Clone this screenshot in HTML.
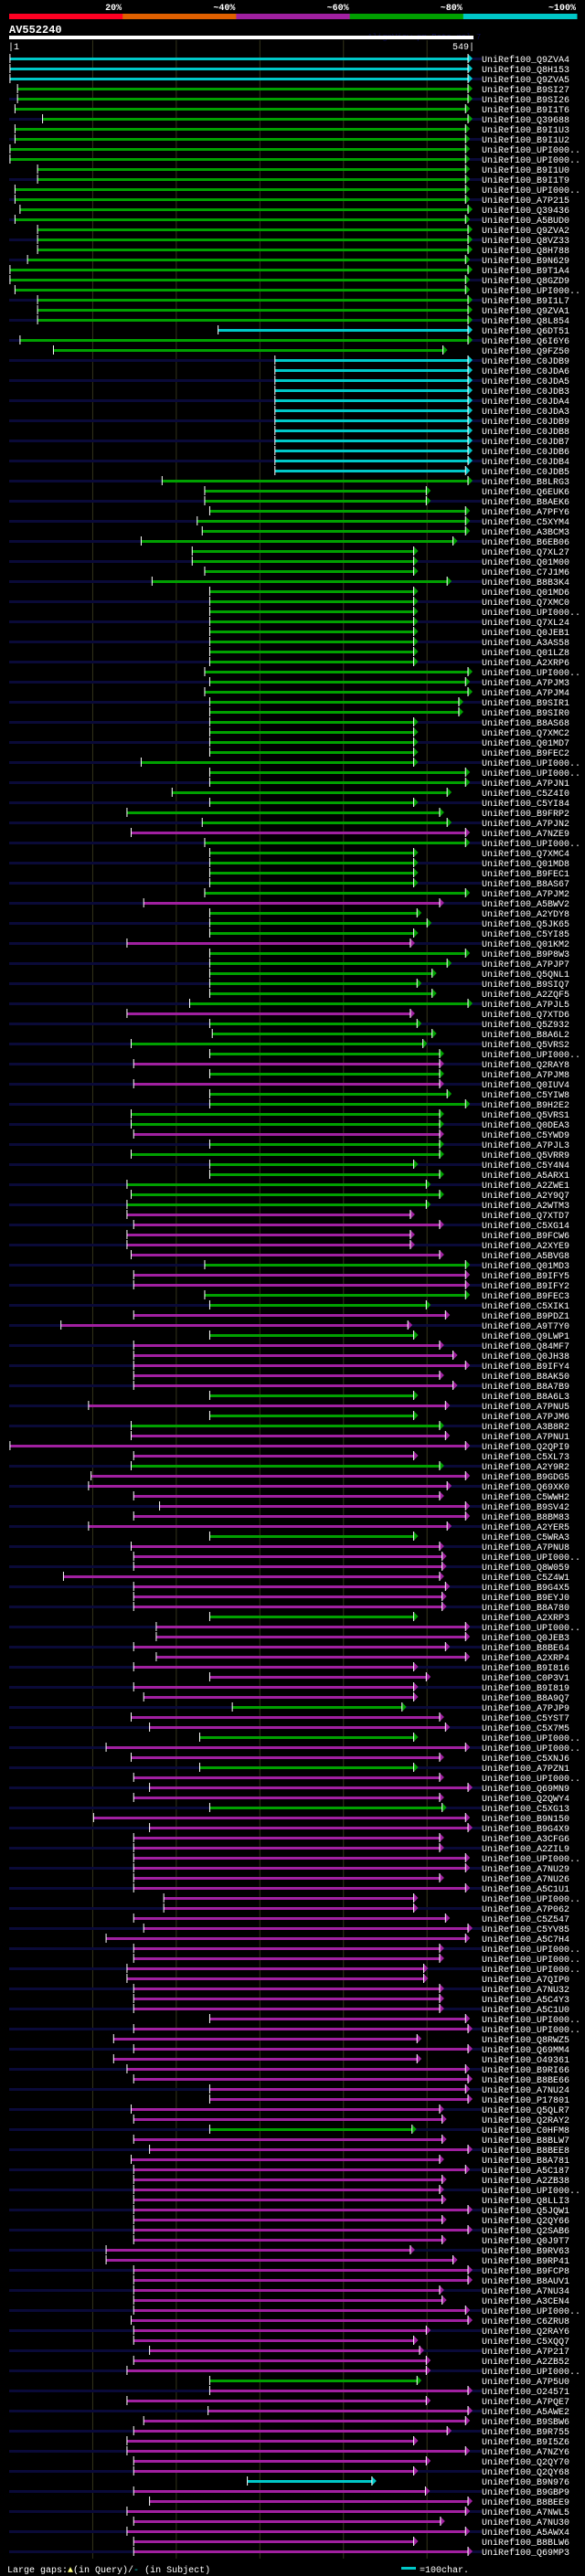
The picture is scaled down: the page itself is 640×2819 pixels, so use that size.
<!DOCTYPE html>
<html><head><meta charset="utf-8">
<style>
html,body{margin:0;padding:0;background:#000;}
body{width:640px;height:2819px;overflow:hidden;}
svg{display:block;}
text{font-family:"Liberation Mono",monospace;}
</style></head>
<body>
<svg id="chart" width="640" height="2819" viewBox="0 0 640 2819" xmlns="http://www.w3.org/2000/svg">
<rect x="0" y="0" width="640" height="2819" fill="#000"/>
<g id="scale"></g>
<text x="10" y="36" fill="#fff" font-size="12" font-weight="bold">AV552240</text>
<text x="402" y="43" fill="#0a0a50" font-size="9">AlignView.pm Beta rel.7</text>
<rect x="10" y="39" width="508" height="4" fill="#fff"/>
<text x="9" y="54" fill="#fff" font-size="10">|1</text>
<text x="519" y="54" fill="#fff" font-size="10" text-anchor="end">549|</text>
<g id="grid"></g>
<g id="rows"></g>
<g>
<text x="8" y="2815" fill="#fff" font-size="10">Large gaps:<tspan fill="#ffff80">▲</tspan>(in Query)/<tspan fill="#00c8c8">-</tspan> (in Subject)</text>
<rect x="439" y="2809" width="16" height="3" fill="#00c8c8"/>
<text x="459" y="2815" fill="#fff" font-size="10">=100char.</text>
</g>
</svg>
<script>
const qLen = 549;
const scaleLabels = ["20%","~40%","~60%","~80%","~100%"];
const gridTicks = [100,200,300,400,500];
const names = ["Q9ZVA4","Q8H153","Q9ZVA5","B9SI27","B9SI26","B9I1T6","Q39688","B9I1U3","B9I1U2","UPI000..","UPI000..","B9I1U0","B9I1T9","UPI000..","A7P215","Q39436","A5BUD0","Q9ZVA2","Q8VZ33","Q8H788","B9N629","B9T1A4","Q8GZD9","UPI000..","B9I1L7","Q9ZVA1","Q8L854","Q6DT51",
"Q6I6Y6","Q9FZ50","C0JDB9","C0JDA6","C0JDA5","C0JDB3","C0JDA4","C0JDA3","C0JDB9","C0JDB8","C0JDB7","C0JDB6","C0JDB4","C0JDB5","B8LRG3","Q6EUK6","B8AEK6","A7PFY6","C5XYM4","A3BCM3","B6EB06","Q7XL27","Q01M00","C7J1M6","B8B3K4","Q01MD6","Q7XMC0","UPI000..",
"Q7XL24","Q0JEB1","A3AS58","Q01LZ8","A2XRP6","UPI000..","A7PJM3","A7PJM4","B9SIR1","B9SIR0","B8AS68","Q7XMC2","Q01MD7","B9FEC2","UPI000..","UPI000..","A7PJN1","C5Z4I0","C5YI84","B9FRP2","A7PJN2","A7NZE9","UPI000..","Q7XMC4","Q01MD8","B9FEC1","B8AS67","A7PJM2",
"A5BWV2","A2YDY8","Q5JK65","C5YI85","Q01KM2","B9P8W3","A7PJP7","Q5QNL1","B9SIQ7","A2ZQF5","A7PJL5","Q7XTD6","Q5Z932","B8A6L2","Q5VRS2","UPI000..","Q2RAY8","A7PJM8","Q0IUV4","C5YIW8","B9H2E2","Q5VRS1","Q0DEA3","C5YWD9","A7PJL3","Q5VRR9","C5Y4N4","A5ARX1",
"A2ZWE1","A2Y9Q7","A2WTM3","Q7XTD7","C5XG14","B9FCW6","A2XYE9","A5BVG8","Q01MD3","B9IFY5","B9IFY2","B9FEC3","C5XIK1","B9PDZ1","A9T7Y0","Q9LWP1","Q84MF7","Q0JH38","B9IFY4","B8AK50","B8A7B9","B8A6L3","A7PNU5","A7PJM6","A3B8R2","A7PNU1","Q2QPI9","C5XL73",
"A2Y9R2","B9GDG5","Q69XK0","C5WWH2","B9SV42","B8BM83","A2YER5","C5WRA3","A7PNU8","UPI000..","Q8W059","C5Z4W1","B9G4X5","B9EYJ0","B8A780","A2XRP3","UPI000..","Q0JEB3","B8BE64","A2XRP4","B9I816","C0P3V1","B9I819","B8A9Q7","A7PJP9","C5YST7","C5X7M5","UPI000..","UPI000..",
"C5XNJ6","A7PZN1","UPI000..","Q69MN9","Q2QWY4","C5XG13","B9N150","B9G4X9","A3CFG6","A2ZIL9","UPI000..","A7NU29","A7NU26","A5C1U1","UPI000..","A7P062","C5Z547","C5YV85","A5C7H4","UPI000..","UPI000..","UPI000..","A7QIP0","A7NU32","A5C4Y3","A5C1U0","UPI000..","UPI000..",
"Q8RWZ5","Q69MM4","O49361","B9RI66","B8BE66","A7NU24","P17801","Q5QLR7","Q2RAY2","C0HFM8","B8BLW7","B8BEE8","B8A781","A5C187","A2ZB38","UPI000..","Q8LLI3","Q5JQW1","Q2QY66","Q2SAB6","Q0J9T7","B9RV63","B9RP41","B9FCP8","B8AUV1","A7NU34","A3CEN4","UPI000..",
"C6ZRU8","Q2RAY6","C5XQQ7","A7P217","A2ZB52","UPI000..","A7P5U0","O24571","A7PQE7","A5AWE2","B9SBW6","B9R755","B9I5Z6","A7NZY6","Q2QY70","Q2QY68","B9N976","B9GBP9","B8BEE9","A7NWL5","A7NU30","A5AWX4","B8BLW6","Q69MP3"];
const starts = [1,1,1,10,10,7,40,7,7,1,1,34,34,7,7,13,7,34,34,34,22,1,1,7,34,34,34,250,
13,53,318,318,318,318,318,318,318,318,318,318,318,318,183,234,234,240,225,231,158,219,219,234,171,240,240,240,
240,240,240,240,240,234,240,234,240,240,240,240,240,240,158,240,240,195,240,141,231,146,234,240,240,240,240,234,
161,240,240,240,141,240,240,240,240,240,216,141,240,243,146,240,149,240,149,240,240,146,146,149,240,146,240,240,
141,146,141,141,149,141,141,146,234,149,149,234,240,149,62,240,149,149,149,149,149,240,95,240,146,146,1,149,
146,98,95,149,180,149,95,240,146,149,149,65,149,149,149,240,176,176,149,176,149,240,149,161,267,146,168,228,116,
146,228,149,168,149,240,101,168,149,149,149,149,149,149,185,185,149,161,116,149,149,141,141,149,149,149,240,149,
125,149,125,141,149,240,240,146,149,240,149,168,146,149,149,149,149,149,149,149,149,116,116,149,149,149,149,149,
146,149,149,168,149,141,240,240,141,238,161,149,141,141,149,149,285,149,168,141,149,141,149,149];
const ends = [549,549,549,549,549,546,549,546,546,546,546,546,546,546,546,549,546,549,549,549,546,549,546,546,549,549,549,549,
549,519,549,549,549,549,549,549,549,549,549,549,549,546,549,499,499,546,546,546,531,484,484,484,524,484,484,484,
484,484,484,484,484,549,546,549,538,538,484,484,484,484,484,546,546,524,484,515,524,546,546,484,484,484,484,546,
515,488,500,484,480,546,524,506,488,506,549,480,488,506,495,515,515,515,515,524,546,515,515,515,515,515,484,515,
499,515,499,480,515,480,480,515,546,546,546,546,499,522,477,484,515,531,546,515,531,484,522,484,515,522,546,484,
515,546,524,515,546,546,524,484,515,518,518,515,522,518,518,484,546,546,522,546,484,499,484,484,470,515,522,484,546,
515,484,515,549,515,518,546,549,515,515,546,546,515,546,484,484,522,549,546,515,515,496,496,515,515,515,546,549,
488,549,488,546,549,546,549,515,518,482,518,549,515,546,518,515,518,549,518,549,518,480,531,549,549,515,518,546,
549,499,484,491,499,499,488,549,499,549,546,524,484,546,499,484,434,498,549,546,516,546,484,549];
const colorCodes = ["c","c","c","g","g","g","g","g","g","g","g","g","g","g","g","g","g","g","g","g","g","g","g","g","g","g","g","c",
"g","g","c","c","c","c","c","c","c","c","c","c","c","c","g","g","g","g","g","g","g","g","g","g","g","g","g","g",
"g","g","g","g","g","g","g","g","g","g","g","g","g","g","g","g","g","g","g","g","g","m","g","g","g","g","g","g",
"m","g","g","g","m","g","g","g","g","g","g","m","g","g","g","g","m","g","m","g","g","g","g","m","g","g","g","g",
"g","g","g","m","m","m","m","m","g","m","m","g","g","m","m","g","m","m","m","m","m","g","m","g","g","m","m","m",
"g","m","m","m","m","m","m","g","m","m","m","m","m","m","m","g","m","m","m","m","m","m","m","m","g","m","m","g","m",
"m","g","m","m","m","g","m","m","m","m","m","m","m","m","m","m","m","m","m","m","m","m","m","m","m","m","m","m",
"m","m","m","m","m","m","m","m","m","g","m","m","m","m","m","m","m","m","m","m","m","m","m","m","m","m","m","m",
"m","m","m","m","m","m","g","m","m","m","m","m","m","m","m","m","c","m","m","m","m","m","m","m"];

const NS = "http://www.w3.org/2000/svg";
const palette = {c:"#00c8c8", g:"#00a000", m:"#a020a0"};
const scaleColors = ["#ff0022","#e06000","#a020a0","#00a000","#00c8c8"];
const x0 = 10, x1 = 512;
function xq(q){ return x0 + q * (x1 - x0) / qLen; }
function rowY(i){ return 64 + 11 * i; }
function mk(tag, attrs, parent){
  const e = document.createElementNS(NS, tag);
  for (const k in attrs) e.setAttribute(k, attrs[k]);
  parent.appendChild(e);
  return e;
}
// color scale
const sg = document.getElementById("scale");
const segW = 124.2;
scaleLabels.forEach((lab, k) => {
  const r = mk("rect", {x: 10 + k*segW, y: 15, width: segW + 0.5, height: 6, fill: scaleColors[k]}, sg);
  
  
  const t = mk("text", {x: 10 + (k+1)*segW - 1, y: 11, fill: "#fff", "font-size": 10, "font-weight": "bold", "text-anchor": "end"}, sg);
  t.textContent = lab;
  
  
});
// grid
const gg = document.getElementById("grid");
gridTicks.forEach(q => {
  const l = mk("line", {x1: xq(q), x2: xq(q), y1: 44, y2: 2800, stroke: "#33331a", "stroke-width": 1}, gg);
  
  
});
// rows
const rg = document.getElementById("rows");
names.forEach((nm, i) => {
  const y = rowY(i);
  const g = mk("g", {}, rg);
  
  
  if (i % 2 === 0) {
    const s = mk("rect", {x: 10, y: y - 1, width: 517, height: 3, fill: "#0a0a38"}, g);
    
    
  }
  const xs = xq(starts[i]), xe = xq(ends[i]);
  const col = palette[colorCodes[i]];
  const b = mk("rect", {x: xs, y: y - 1, width: Math.max(1, xe - xs), height: 3, fill: col}, g);
  
  
  const tk = mk("rect", {x: xs - 0.5, y: y - 5, width: 1, height: 10, fill: "#fff"}, g);
  
  
  const ar = mk("polygon", {points: `${xe},${y-5} ${xe+5},${y} ${xe},${y+5}`, fill: col}, g);
  
  
  const el = mk("rect", {x: xe - 0.5, y: y - 5, width: 1, height: 10, fill: "#fff"}, g);
  
  
  const t = mk("text", {x: 527, y: y + 4, fill: "#fff", "font-size": 10}, g);
  t.textContent = "UniRef100_" + nm;
  
  
});
</script>
</body></html>
